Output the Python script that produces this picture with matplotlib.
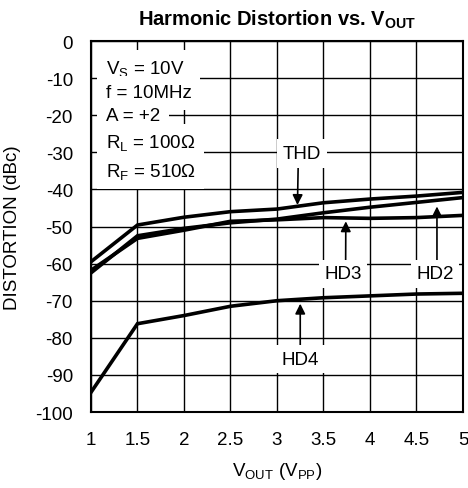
import matplotlib
matplotlib.use("Agg")
import matplotlib.pyplot as plt

plt.rcParams['font.family'] = ['Liberation Sans', 'DejaVu Sans']
plt.rcParams['mathtext.fontset'] = 'custom'
plt.rcParams['mathtext.rm'] = 'Liberation Sans'
plt.rcParams['mathtext.it'] = 'Liberation Sans'
plt.rcParams['mathtext.bf'] = 'Liberation Sans:bold'
plt.rcParams['axes.unicode_minus'] = False

vout = [1, 1.5, 2, 2.5, 3, 3.5, 4, 4.5, 5]
thd = [-59.5, -49.6, -47.5, -46.0, -45.3, -43.6, -42.6, -41.8, -40.8]
hd2 = [-62.5, -52.5, -50.5, -49.0, -48.0, -46.3, -44.8, -43.5, -42.2]
hd3 = [-61.8, -53.2, -51.0, -48.6, -48.2, -47.6, -47.8, -47.6, -47.0]
hd4 = [-94.7, -76.2, -74.0, -71.5, -70.0, -69.2, -68.7, -68.2, -68.0]

xticks = [1, 1.5, 2, 2.5, 3, 3.5, 4, 4.5, 5]
xticklabels = ['1', '1.5', '2', '2.5', '3', '3.5', '4', '4.5', '5']
yticks = list(range(0, -101, -10))
yticklabels = ['0', '-10', '-20', '-30', '-40', '-50', '-60', '-70', '-80', '-90', '-100']

cond_lines = [r'V$_\mathrm{S}$ = 10V', 'f = 10MHz', 'A = +2',
              r'R$_\mathrm{L}$ = 100Ω', r'R$_\mathrm{F}$ = 510Ω']
cond_y = [-7.3, -14.0, -20.2, -27.3, -35.0]

FS = 13.5

fig = plt.figure(figsize=(4.68, 4.89), dpi=100)
ax = fig.add_axes([0.1944, 0.1554, 0.9893 - 0.1944, 0.9141 - 0.1554])

ax.set_xlim(1, 5)
ax.set_ylim(-100, 0)
ax.set_xticks(xticks)
ax.set_xticklabels(xticklabels)
ax.set_yticks(yticks)
ax.set_yticklabels(yticklabels)
ax.tick_params(axis='x', length=0, labelsize=FS, pad=14)
ax.tick_params(axis='y', length=0, labelsize=FS, pad=13)
ax.grid(True, color='black', linewidth=1.0)
ax.set_axisbelow(True)
for s in ax.spines.values():
    s.set_linewidth(1.5)

for series in (thd, hd2, hd3, hd4):
    ax.plot(vout, series, color='black', linewidth=2.6, solid_joinstyle='miter', zorder=3)

bbox_c = dict(boxstyle='square,pad=0.45', facecolor='white', edgecolor='none')
for txt, y in zip(cond_lines, cond_y):
    ax.text(1.16, y, txt, fontsize=FS, ha='left', va='center', bbox=bbox_c, zorder=4)

bbox = dict(boxstyle='square,pad=0.3', facecolor='white', edgecolor='none')
arrowprops = dict(arrowstyle='-|>', color='black', lw=1.2, mutation_scale=15, shrinkA=0, shrinkB=0)
ax.annotate('THD', xy=(3.22, -44.2), xytext=(3.27, -30.3), fontsize=FS,
            ha='center', va='center', bbox=bbox, zorder=5,
            arrowprops=dict(arrowprops, relpos=(0.4, 0)))
ax.annotate('HD3', xy=(3.74, -48.6), xytext=(3.71, -62.8), fontsize=FS,
            ha='center', va='center', bbox=bbox, zorder=5,
            arrowprops=dict(arrowprops, relpos=(0.57, 1)))
ax.annotate('HD2', xy=(4.72, -44.6), xytext=(4.70, -62.8), fontsize=FS,
            ha='center', va='center', bbox=bbox, zorder=5,
            arrowprops=dict(arrowprops, relpos=(0.55, 1)))
ax.annotate('HD4', xy=(3.25, -70.8), xytext=(3.25, -85.8), fontsize=FS,
            ha='center', va='center', bbox=bbox, zorder=5,
            arrowprops=dict(arrowprops, relpos=(0.5, 1)))

ax.set_title(r'Harmonic Distortion vs. V$_\mathbf{OUT}$', fontsize=14.5,
             fontweight='bold', pad=12)
ax.set_ylabel('DISTORTION (dBc)', fontsize=FS, labelpad=10)
ax.set_xlabel(r'V$_\mathrm{OUT}$ (V$_\mathrm{PP}$)', fontsize=FS, labelpad=8)

fig.savefig('out.png', dpi=100)
